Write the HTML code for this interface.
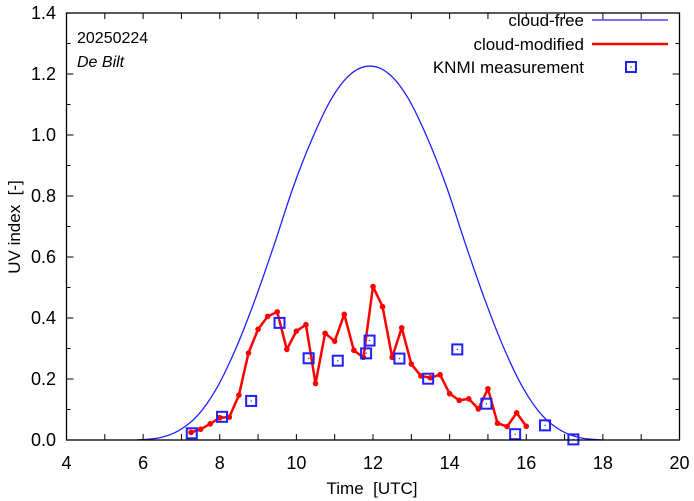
<!DOCTYPE html>
<html><head><meta charset="utf-8"><style>
body{margin:0;background:#fff}
svg{display:block;font-family:"Liberation Sans",sans-serif}
</style></head><body>
<svg id="chart" width="694" height="501" viewBox="0 0 694 501">
<rect width="694" height="501" fill="#fff"/>
<g id="ticks"></g>
<g id="series"></g>
<rect x="66.5" y="13" width="613" height="427" fill="none" stroke="#000" stroke-width="1.3"/>
<text x="372" y="494" font-size="17" text-anchor="middle">Time&#160;&#160;[UTC]</text>
<text transform="translate(20,227) rotate(-90)" font-size="17" text-anchor="middle">UV index&#160;&#160;[-]</text>
<text x="77" y="43" font-size="16">20250224</text>
<text x="77" y="67" font-size="16" font-style="italic">De Bilt</text>
<g>
<g>
<text x="584" y="26" font-size="17" text-anchor="end">cloud-free</text>
<line x1="592" y1="20" x2="668" y2="20" stroke="#2020ff" stroke-width="1.3"/></g>
<g>
<text x="584" y="50" font-size="17" text-anchor="end">cloud-modified</text>
<line x1="592" y1="44" x2="668" y2="44" stroke="#ff0000" stroke-width="2.5"/></g>
<g>
<text x="584" y="73" font-size="17" text-anchor="end">KNMI measurement</text>
<rect x="626" y="62" width="10" height="10" fill="none" stroke="#2020ff" stroke-width="2"/>
<rect x="630.4" y="66.4" width="1.2" height="1.2" fill="#2020ff"/></g>
</g>
</svg>
<script>
const clearTimes=[5.8,6.42,6.92,7.42,7.92,8.42,8.92,9.42,9.92,10.42,10.92,11.42,11.92,12.42,12.92,13.42,13.92,14.42,14.92,15.42,15.92,16.42,16.92,17.42,18.0];
const clearValues=[0,0.007,0.03,0.08,0.17,0.30,0.46,0.64,0.83,0.99,1.12,1.20,1.226,1.20,1.12,0.99,0.83,0.64,0.46,0.30,0.17,0.08,0.03,0.007,0];
const modTimes=[7.25,7.5,7.75,8,8.25,8.5,8.75,9,9.25,9.5,9.75,10,10.25,10.5,10.75,11,11.25,11.5,11.75,12,12.25,12.5,12.75,13,13.25,13.5,13.75,14,14.25,14.5,14.75,15,15.25,15.5,15.75,16];
const modValues=[0.025,0.035,0.053,0.073,0.075,0.147,0.285,0.363,0.405,0.42,0.297,0.357,0.378,0.185,0.35,0.324,0.412,0.294,0.271,0.503,0.437,0.271,0.368,0.249,0.21,0.204,0.214,0.152,0.13,0.135,0.102,0.168,0.055,0.044,0.089,0.045];
const measTimes=[7.27,8.06,8.82,9.56,10.32,11.08,11.82,11.91,12.69,13.44,14.2,14.96,15.71,16.49,17.23];
const measValues=[0.022,0.076,0.128,0.384,0.268,0.26,0.284,0.326,0.267,0.201,0.297,0.119,0.019,0.048,0.002];
const xTickLabels=[4,6,8,10,12,14,16,18,20];
const yTickLabels=[0.0,0.2,0.4,0.6,0.8,1.0,1.2,1.4];
const X0=66.5,X1=679.5,Y0=440,Y1=13;
function xs(t){return X0+(t-4)/16*(X1-X0);}
function ys(v){return Y0-v/1.4*(Y0-Y1);}
const NS="http://www.w3.org/2000/svg";
const tk=document.getElementById('ticks'),sr=document.getElementById('series');
function mk(tag,attrs,parent){const e=document.createElementNS(NS,tag);for(const k in attrs)e.setAttribute(k,attrs[k]);parent.appendChild(e);return e;}
for(let h=4;h<=20;h++){const x=xs(h);
 mk('line',{x1:x,y1:Y0,x2:x,y2:Y0-6,stroke:'#000'},tk);
 mk('line',{x1:x,y1:Y1,x2:x,y2:Y1+6,stroke:'#000'},tk);}
xTickLabels.forEach(h=>{const t=mk('text',{x:xs(h),y:469,'font-size':18,'text-anchor':'middle'},tk);t.textContent=h;

});
for(let i=0;i<=14;i++){const v=i*0.1,y=ys(v),l=i%2?4:7;
 mk('line',{x1:X0,y1:y,x2:X0+l,y2:y,stroke:'#000'},tk);
 mk('line',{x1:X1,y1:y,x2:X1-l,y2:y,stroke:'#000'},tk);}
yTickLabels.forEach(v=>{const t=mk('text',{x:56,y:ys(v)+6,'font-size':18,'text-anchor':'end'},tk);t.textContent=v.toFixed(1);

});
const P=clearTimes.map((t,i)=>[xs(t),ys(clearValues[i])]);
let d='M'+P[0][0]+','+P[0][1];
for(let i=0;i<P.length-1;i++){const p0=P[Math.max(0,i-1)],p1=P[i],p2=P[i+1],p3=P[Math.min(P.length-1,i+2)];
 const c1=[p1[0]+(p2[0]-p0[0])/6,Math.min(Y0,p1[1]+(p2[1]-p0[1])/6)],c2=[p2[0]-(p3[0]-p1[0])/6,Math.min(Y0,p2[1]-(p3[1]-p1[1])/6)];
 d+=' C'+c1+' '+c2+' '+p2;}
const cf=mk('path',{d:d,fill:'none',stroke:'#2020ff','stroke-width':1.3},sr);


const cm=mk('polyline',{points:modTimes.map((t,i)=>xs(t)+','+ys(modValues[i])).join(' '),fill:'none',stroke:'#ff0000','stroke-width':2.5,'stroke-linejoin':'round'},sr);


modTimes.forEach((t,i)=>{const c=mk('circle',{cx:xs(t),cy:ys(modValues[i]),r:2.8,fill:'#ff0000'},sr);

});
measTimes.forEach((t,i)=>{const x=xs(t),y=ys(measValues[i]);
 const r=mk('rect',{x:x-5,y:y-5,width:10,height:10,fill:'none',stroke:'#2020ff','stroke-width':2},sr);
 
 
 mk('rect',{x:x-0.6,y:y-0.6,width:1.2,height:1.2,fill:'#2020ff'},sr);});
</script>
</body></html>
